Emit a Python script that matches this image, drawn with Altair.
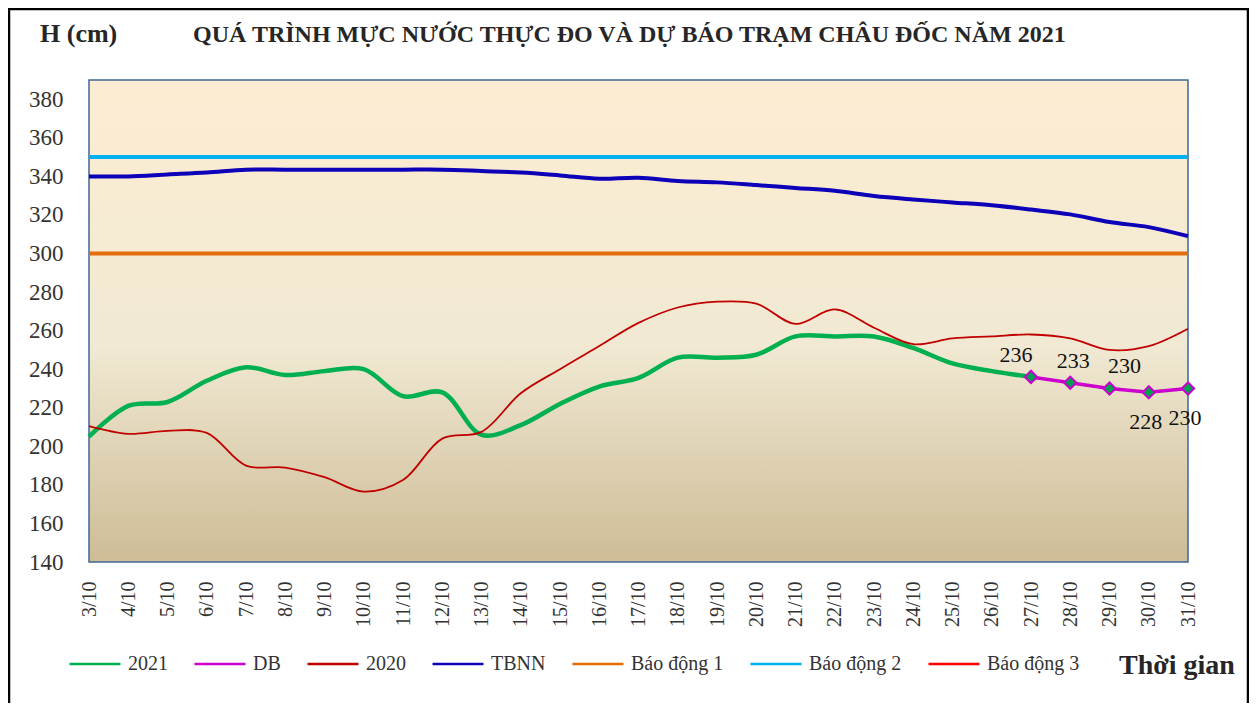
import altair as alt
import pandas as pd

# ---------------- data ----------------
dates = ["3/10", "4/10", "5/10", "6/10", "7/10", "8/10", "9/10", "10/10", "11/10",
         "12/10", "13/10", "14/10", "15/10", "16/10", "17/10", "18/10", "19/10",
         "20/10", "21/10", "22/10", "23/10", "24/10", "25/10", "26/10", "27/10",
         "28/10", "29/10", "30/10", "31/10"]

dates_2021 = dates[:25]
values_2021 = [205, 221, 223, 234, 241, 237, 239, 240, 226, 228, 206, 211, 222,
               231, 235.5, 246, 246, 247.5, 257, 257, 257, 251, 243, 239, 236]

values_2020 = [210.5, 206.5, 208, 207, 190, 189, 184, 176.5, 182.5, 204, 207.5,
               227.5, 240, 252, 264, 272, 275, 274, 263.5, 271, 261.5, 253, 256,
               257, 258, 256, 250, 252, 261]

values_tbnn = [340, 340, 341, 342, 343.5, 343.5, 343.5, 343.5, 343.5, 343.5, 342.8,
               342, 340.5, 338.8, 339.3, 337.6, 336.9, 335.5, 334, 332.5, 329.8,
               328, 326.5, 325, 322.8, 320.3, 316.3, 313.7, 309]

db_dates = ["27/10", "28/10", "29/10", "30/10", "31/10"]
db_values = [236, 233, 230, 228, 230]
db_labels_left = ["27/10"]
db_labels_mid = ["28/10"]
db_labels_right = ["29/10"]
db_labels_below = ["30/10", "31/10"]

alarm_names = ["Báo động 1", "Báo động 2", "Báo động 3"]
alarm_values = [300, 350, 400]

series_order = ["2021", "DB", "2020", "TBNN", "Báo động 1", "Báo động 2", "Báo động 3"]
series_colors = ["#00B050", "#CC00CC", "#C00000", "#0C00B8", "#E46C0A", "#00B0F0", "#FF0000"]

y_ticks = [140, 160, 180, 200, 220, 240, 260, 280, 300, 320, 340, 360, 380]
y_min, y_max = 140, 390

title_text = "QUÁ TRÌNH MỰC NƯỚC THỰC ĐO VÀ DỰ BÁO TRẠM CHÂU ĐỐC NĂM 2021"

# ---------------- tables ----------------
rows = []
for d, v in zip(dates_2021, values_2021):
    rows.append({"date": d, "series": "2021", "value": v})
for d, v in zip(db_dates, db_values):
    rows.append({"date": d, "series": "DB", "value": v})
for d, v in zip(dates, values_2020):
    rows.append({"date": d, "series": "2020", "value": v})
for d, v in zip(dates, values_tbnn):
    rows.append({"date": d, "series": "TBNN", "value": v})
for name, val in zip(alarm_names, alarm_values):
    for d in dates:
        rows.append({"date": d, "series": name, "value": val})
df = pd.DataFrame(rows)

db_df = pd.DataFrame({"date": db_dates, "value": db_values})

FONT = "Liberation Serif"
W, H = 1099, 482

x_scale = alt.Scale(type="point", domain=dates, padding=0)
y_scale = alt.Scale(domain=[y_min, y_max], nice=False, zero=False)

x_axis = alt.Axis(title=None, labelAngle=270, ticks=False, domain=False,
                  labelFont=FONT, labelFontSize=20, labelColor="#333333",
                  labelPadding=19)
y_axis = alt.Axis(title=None, values=y_ticks, ticks=False, domain=False,
                  grid=False, labelFont=FONT, labelFontSize=23,
                  labelColor="#333333", labelPadding=26)

x_enc = alt.X("date:O", scale=x_scale, axis=x_axis)
y_enc = alt.Y("value:Q", scale=y_scale, axis=y_axis)

legend = alt.Legend(orient="none", legendX=-21, legendY=557, direction="horizontal",
                    title=None, symbolType="stroke", symbolSize=2600,
                    symbolStrokeWidth=2.5, labelFont=FONT, labelFontSize=20,
                    labelColor="#333333", columnPadding=21, labelOffset=6,
                    labelLimit=250)
color_enc = alt.Color("series:N",
                      scale=alt.Scale(domain=series_order, range=series_colors),
                      legend=legend)

base = alt.Chart(df).encode(x=x_enc, y=y_enc, color=color_enc)

# background gradient of the plot area
bg_df = pd.DataFrame({"x0": [dates[0]], "x1": [dates[-1]], "y0": [y_min], "y1": [y_max]})
bg = alt.Chart(bg_df).mark_rect(
    fill=alt.LinearGradient(
        gradient="linear", x1=0, x2=0, y1=0, y2=1,
        stops=[alt.GradientStop(offset=0, color="#FCEDD2"),
               alt.GradientStop(offset=0.55, color="#F1E9D3"),
               alt.GradientStop(offset=1, color="#CDBC96")]),
    stroke="#3F6797", strokeWidth=1.5
).encode(
    x=alt.X("x0:O", scale=x_scale, axis=x_axis),
    x2="x1",
    y=alt.Y("y0:Q", scale=y_scale, axis=y_axis),
    y2="y1",
)

line_2021 = base.transform_filter(alt.datum.series == "2021").mark_line(
    strokeWidth=4.5, interpolate="catmull-rom")
line_db = base.transform_filter(alt.datum.series == "DB").mark_line(strokeWidth=3.5)
pts_db = alt.Chart(db_df).mark_point(
    shape="diamond", filled=True, fill="#00A050", stroke="#CC00CC",
    strokeWidth=2, size=150, opacity=1
).encode(x=x_enc, y=y_enc)
line_2020 = base.transform_filter(alt.datum.series == "2020").mark_line(
    strokeWidth=1.8, interpolate="catmull-rom")
line_tbnn = base.transform_filter(alt.datum.series == "TBNN").mark_line(
    strokeWidth=4, interpolate="catmull-rom")
line_alarm = base.transform_filter(
    alt.FieldOneOfPredicate(field="series", oneOf=alarm_names)
).mark_line(strokeWidth=4, clip=True)


def db_label(which, dx, dy):
    return alt.Chart(db_df).transform_filter(
        alt.FieldOneOfPredicate(field="date", oneOf=which)
    ).mark_text(font=FONT, fontSize=22, color="#111111", dx=dx, dy=dy).encode(
        x=x_enc, y=y_enc, text=alt.Text("value:Q"))


lab_left = db_label(db_labels_left, -15, -22)
lab_mid = db_label(db_labels_mid, 3, -22)
lab_right = db_label(db_labels_right, 15, -22)
lab_below = db_label(db_labels_below, -3, 30)

one = pd.DataFrame({"k": [1]})
t_h = alt.Chart(one).mark_text(
    text="H (cm)", font=FONT, fontSize=26, fontWeight="bold", color="#262626",
    align="left", baseline="alphabetic").encode(x=alt.value(-49), y=alt.value(-38))
t_main = alt.Chart(one).mark_text(
    text=title_text, font=FONT, fontSize=24, fontWeight="bold", color="#262626",
    align="left", baseline="alphabetic").encode(x=alt.value(104), y=alt.value(-38))
t_time = alt.Chart(one).mark_text(
    text="Thời gian", font=FONT, fontSize=28, fontWeight="bold", color="#262626",
    align="left", baseline="alphabetic").encode(x=alt.value(1030), y=alt.value(594))
frame = alt.Chart(one).mark_rect(
    fillOpacity=0, stroke="#000000", strokeWidth=2.5
).encode(x=alt.value(-80), x2=alt.value(1159), y=alt.value(-71), y2=alt.value(700))

chart = alt.layer(
    bg, line_2021, line_db, pts_db, line_2020, line_tbnn, line_alarm,
    lab_left, lab_mid, lab_right, lab_below, t_h, t_main, t_time, frame
).properties(
    width=W, height=H,
    autosize=alt.AutoSizeParams(type="none"),
    padding={"left": 81, "top": 72, "right": 61, "bottom": 141},
    background="white",
).configure_view(stroke=None).configure_axis(labelFont=FONT).configure_legend(labelFont=FONT)

chart.save("out.html", embed_options={"renderer": "svg", "actions": False})
